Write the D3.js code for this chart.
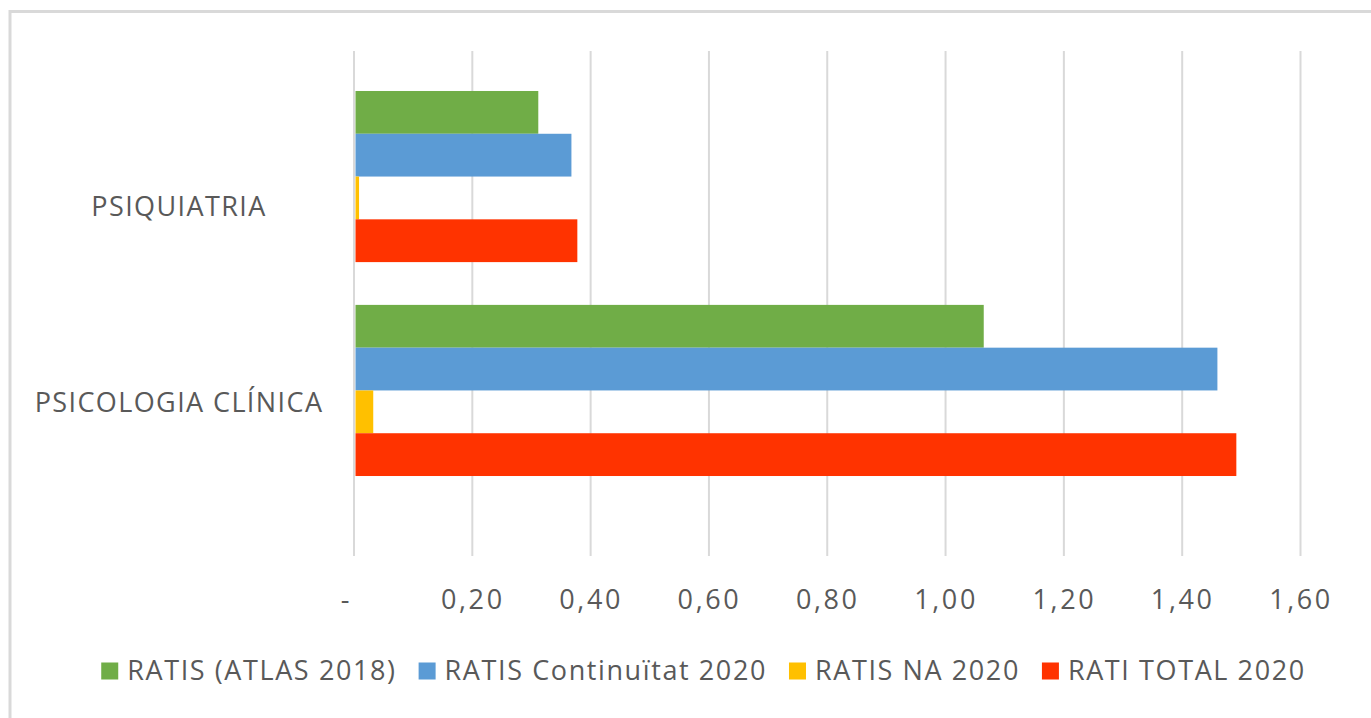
<!DOCTYPE html>
<html>
<head>
<meta charset="utf-8">
<script src="https://cdn.jsdelivr.net/npm/d3@7"></script>
<style>
  body { margin: 0; background: #fff; }
  svg text { font-family: "Open Sans", sans-serif; fill: #595959; }
</style>
</head>
<body>
<svg id="chart" width="1371" height="718"></svg>
<script>
const categories = ['PSIQUIATRIA', 'PSICOLOGIA CLÍNICA'];
const seriesNames = ['RATIS (ATLAS 2018)', 'RATIS Continuïtat 2020', 'RATIS NA 2020', 'RATI TOTAL 2020'];
const atlas2018 = [0.309, 1.062];
const continuitat2020 = [0.365, 1.457];
const na2020 = [0.006, 0.030];
const total2020 = [0.375, 1.489];
const xTicks = [0, 0.2, 0.4, 0.6, 0.8, 1.0, 1.2, 1.4, 1.6];
const colors = ['#70AD47', '#5B9BD5', '#FFC000', '#FF3300'];

const seriesValues = [atlas2018, continuitat2020, na2020, total2020];

document.addEventListener('DOMContentLoaded', function () {
    const svg = d3.select('#chart');

    // outer frame (cut off on the right and bottom)
    svg.append('rect')
        .attr('x', 10).attr('y', 11.5)
        .attr('width', 1400).attr('height', 800)
        .attr('fill', 'none')
        .attr('stroke', '#d9d9d9')
        .attr('stroke-width', 3);

    const plotTop = 51, plotBottom = 556;

    const x = d3.scaleLinear().domain([0, 1.6]).range([354, 1300.5]);

    // category bands and bars within
    const y0 = d3.scaleBand().domain(categories)
        .range([69.6, 497.4]).paddingInner(0.2).paddingOuter(0.1);
    const y1 = d3.scaleBand().domain(seriesNames).range([0, y0.bandwidth()]);

    // labels sit a bit apart from bar groups, as in the original
    const yLabel = d3.scalePoint().domain(categories).range([207, 403]);

    // gridlines
    svg.append('g').selectAll('line')
        .data(xTicks)
        .join('line')
        .attr('x1', d => x(d)).attr('x2', d => x(d))
        .attr('y1', plotTop).attr('y2', plotBottom)
        .attr('stroke', '#d9d9d9')
        .attr('stroke-width', 2);

    // bars
    const groups = svg.append('g').selectAll('g')
        .data(categories)
        .join('g')
        .attr('transform', c => `translate(0,${y0(c)})`);

    groups.selectAll('rect')
        .data((c, ci) => seriesNames.map((s, si) => ({ s, si, v: seriesValues[si][ci] })))
        .join('rect')
        .attr('x', x(0) + 1.5)
        .attr('y', d => y1(d.s))
        .attr('width', d => x(d.v) - x(0))
        .attr('height', y1.bandwidth())
        .attr('fill', d => colors[d.si]);

    // x axis labels
    const xAxis = d3.axisBottom(x)
        .tickValues(xTicks)
        .tickSize(0)
        .tickFormat(d => d === 0 ? '-' : d.toFixed(2).replace('.', ','));
    const gx = svg.append('g')
        .attr('transform', `translate(0, 587)`)
        .call(xAxis);
    gx.select('.domain').remove();
    gx.selectAll('text')
        .attr('dy', '0.71em')
        .style('font-size', '27px')
        .style('letter-spacing', '2.6px')
        .attr('font-family', null);
    gx.selectAll('.tick').filter(d => d === 0).select('text').attr('dx', -8);

    // category labels
    svg.append('g').selectAll('text')
        .data(categories)
        .join('text')
        .attr('x', 179)
        .attr('y', c => yLabel(c))
        .attr('dy', '0.35em')
        .attr('text-anchor', 'middle')
        .style('font-size', '27px')
        .style('letter-spacing', '1.4px')
        .text(c => c);

    // legend
    const legend = svg.append('g');
    const items = legend.selectAll('g')
        .data(seriesNames)
        .join('g');
    items.append('rect')
        .attr('width', 17).attr('height', 17)
        .attr('y', -8.5)
        .attr('fill', (d, i) => colors[i]);
    items.append('text')
        .attr('x', 26)
        .attr('dy', '0.35em')
        .style('font-size', '27px')
        .style('letter-spacing', '1.6px')
        .text(d => d);

    const widths = [];
    items.each(function () {
        widths.push(this.querySelector('text').getComputedTextLength() + 26);
    });
    const gap = 22;
    const total = d3.sum(widths) + gap * (widths.length - 1);
    let cursor = 703.5 - total / 2;
    items.attr('transform', (d, i) => {
        const t = `translate(${cursor},671)`;
        cursor += widths[i] + gap;
        return t;
    });
});
</script>
</body>
</html>
